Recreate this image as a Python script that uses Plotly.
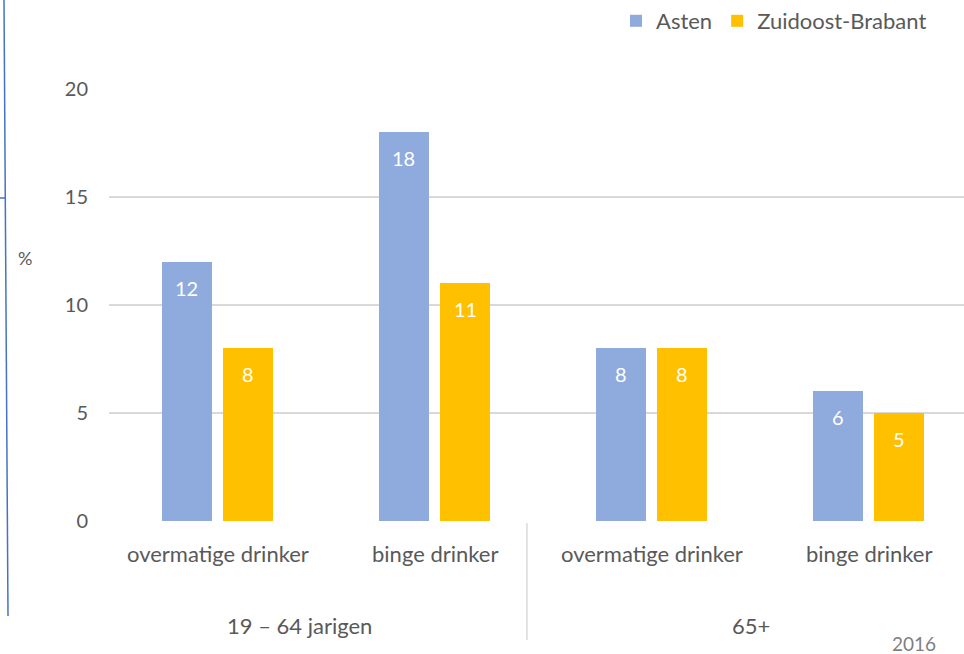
import plotly.graph_objects as go

categories = ["overmatige drinker", "binge drinker", "overmatige drinker", "binge drinker"]
groups = ["19 – 64 jarigen", "65+"]
asten = [12, 18, 8, 6]
zob = [8, 11, 8, 5]
series_names = ["Asten", "Zuidoost-Brabant"]
y_ticks = [0, 5, 10, 15, 20]

FONT = "Lato"
GREY = "#595959"
C_ASTEN = "#8FAADC"
C_ZOB = "#FFC000"

xpos = list(range(len(categories)))
off = 0.141
bw = 0.228

fig = go.Figure()
fig.add_trace(go.Bar(x=[p - off for p in xpos], y=asten, width=bw, name=series_names[0],
                     marker=dict(color=C_ASTEN, line=dict(width=0))))
fig.add_trace(go.Bar(x=[p + off for p in xpos], y=zob, width=bw, name=series_names[1],
                     marker=dict(color=C_ZOB, line=dict(width=0))))

W, H = 964, 654
L, R, T, B = 109, 0, 89, 133


def px_to_paper(x, y):
    return (x - L) / (W - L - R), 1 - (y - T) / (H - T - B)


ann = []
for p, v in zip(xpos, asten):
    ann.append(dict(x=p - off, y=v, yshift=-26, text=str(v), showarrow=False,
                    font=dict(family=FONT, size=20, color="white"), xref="x", yref="y"))
for p, v in zip(xpos, zob):
    ann.append(dict(x=p + off, y=v, yshift=-26, text=str(v), showarrow=False,
                    font=dict(family=FONT, size=20, color="white"), xref="x", yref="y"))
# category labels
for p, c in zip(xpos, categories):
    ann.append(dict(x=p, y=0, yshift=-32, text=c, showarrow=False, xref="x", yref="y",
                    xanchor="center", font=dict(family=FONT, size=22, color=GREY)))
# group labels
ann.append(dict(x=0.376, y=0, yshift=-104, text=groups[0], showarrow=False, xref="x", yref="y",
                xanchor="center", font=dict(family=FONT, size=22, color=GREY)))
ann.append(dict(x=2.46, y=0, yshift=-104, text=groups[1], showarrow=False, xref="x", yref="y",
                xanchor="center", font=dict(family=FONT, size=22, color=GREY)))
# % label and year
px, py = px_to_paper(25, 258)
ann.append(dict(x=px, y=py, xref="paper", yref="paper", text="%", showarrow=False,
                xanchor="center", yanchor="middle",
                font=dict(family=FONT, size=18, color=GREY)))
px, py = px_to_paper(914, 643)
ann.append(dict(x=px, y=py, xref="paper", yref="paper", text="2016", showarrow=False,
                xanchor="center", yanchor="middle",
                font=dict(family=FONT, size=19, color="#7F7F7F")))

shapes = [
    # group separator
    dict(type="line", xref="x", yref="paper", x0=1.426, x1=1.426,
         y0=px_to_paper(0, 523)[1], y1=px_to_paper(0, 640)[1],
         line=dict(color="#D9D9D9", width=1.5)),
    # left blue line
    dict(type="line", xref="paper", yref="paper",
         x0=px_to_paper(4, 0)[0], y0=px_to_paper(0, 0)[1],
         x1=px_to_paper(8, 0)[0], y1=px_to_paper(0, 616)[1],
         line=dict(color="#4472C4", width=1.5)),
    dict(type="line", xref="paper", yref="paper",
         x0=px_to_paper(0, 0)[0], y0=px_to_paper(0, 198)[1],
         x1=px_to_paper(5, 0)[0], y1=px_to_paper(0, 198)[1],
         line=dict(color="#4472C4", width=1.5)),
]

fig.update_layout(
    width=W, height=H,
    margin=dict(l=L, r=R, t=T, b=B),
    paper_bgcolor="white", plot_bgcolor="white",
    bargap=0, barmode="overlay",
    annotations=ann, shapes=shapes,
    xaxis=dict(range=[-0.5, -0.5 + (W - L - R) / 217], showticklabels=False,
               showgrid=False, zeroline=False, fixedrange=True),
    yaxis=dict(range=[0, 20], tickvals=y_ticks, showgrid=True, gridcolor="#D9D9D9",
               gridwidth=1.5, zeroline=False, ticks="", ticklabelstandoff=20,
               tickfont=dict(family=FONT, size=20, color=GREY)),
    legend=dict(orientation="h", x=(932 - L) / (W - L - R), xanchor="right",
                y=1.0, yanchor="top", yref="container",
                font=dict(family=FONT, size=22, color=GREY), tracegroupgap=0),
    showlegend=True,
    font=dict(family=FONT, color=GREY),
)
fig.write_html("out.html", config={"displayModeBar": False},
               post_script="document.body.style.margin='0';")
